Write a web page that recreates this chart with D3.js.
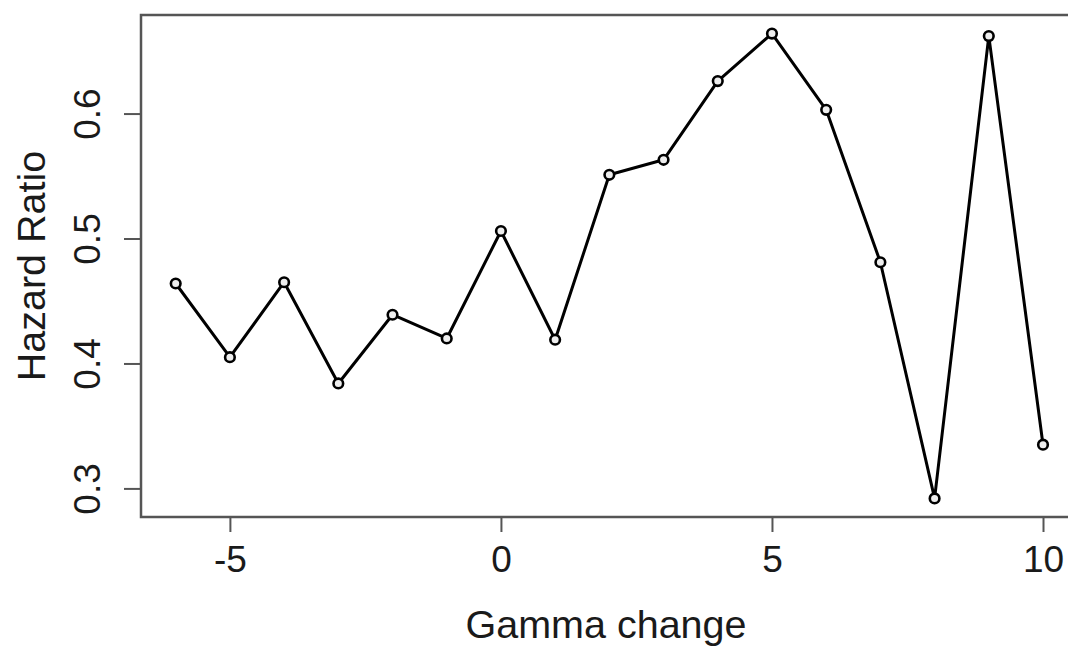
<!DOCTYPE html>
<html>
<head>
<meta charset="utf-8">
<script src="https://cdn.jsdelivr.net/npm/d3@7"></script>
<style>
  html, body { margin: 0; padding: 0; background: #fff; overflow: hidden; }
  svg { display: block; }
  text { font-family: "Liberation Sans", Arial, sans-serif; fill: #1a1a1a; }
</style>
</head>
<body>
<svg id="chart" width="1068" height="647"></svg>
<script>
// Gamma change (x) and the resulting hazard ratio (y)
const gammaChange = [-6, -5, -4, -3, -2, -1, 0, 1, 2, 3, 4, 5, 6, 7, 8, 9, 10];
const hazardRatio = [0.464, 0.405, 0.465, 0.384, 0.439, 0.420, 0.506, 0.419,
                     0.551, 0.563, 0.626, 0.664, 0.603, 0.481, 0.292, 0.662, 0.335];
const xTicks = [-5, 0, 5, 10];
const yTicks = [0.3, 0.4, 0.5, 0.6];
const xTitle = "Gamma change";
const yTitle = "Hazard Ratio";

const svg = d3.select("#chart");
const plot = { left: 141, right: 1077.7, top: 15, bottom: 517 };

// Extend each data range by 4% on both sides, as R's base graphics does
function padded(ext) {
  const d = (ext[1] - ext[0]) * 0.04;
  return [ext[0] - d, ext[1] + d];
}

const x = d3.scaleLinear().domain(padded(d3.extent(gammaChange))).range([plot.left, plot.right]);
const y = d3.scaleLinear().domain(padded(d3.extent(hazardRatio))).range([plot.bottom, plot.top]);

const axisColor = "#555";
const tickFont = 37;
const titleFont = 39.5;

// X axis
const gx = svg.append("g")
  .attr("transform", `translate(0,${plot.bottom})`)
  .call(d3.axisBottom(x).tickValues(xTicks).tickSize(15).tickPadding(14).tickFormat(d3.format("d")));
gx.select(".domain").remove();
gx.selectAll(".tick line").attr("stroke", axisColor).attr("stroke-width", 2);
gx.selectAll(".tick text")
  .attr("font-size", tickFont)
  .attr("fill", "#1a1a1a")
  .attr("font-family", "Liberation Sans, Arial, sans-serif")
  .text(d => d < 0 ? "-" + Math.abs(d) : String(d));

// Y axis, labels parallel to the axis
const gy = svg.append("g")
  .attr("transform", `translate(${plot.left},0)`)
  .call(d3.axisLeft(y).tickValues(yTicks).tickSize(17).tickFormat(d3.format(".1f")));
gy.select(".domain").remove();
gy.selectAll(".tick line").attr("stroke", axisColor).attr("stroke-width", 2);
gy.selectAll(".tick text")
  .attr("font-size", tickFont)
  .attr("fill", "#1a1a1a")
  .attr("font-family", "Liberation Sans, Arial, sans-serif")
  .attr("text-anchor", "middle")
  .attr("x", null)
  .attr("dy", null)
  .attr("transform", "translate(-41,0) rotate(-90)");

// Plot frame
svg.append("rect")
  .attr("x", plot.left)
  .attr("y", plot.top)
  .attr("width", plot.right - plot.left)
  .attr("height", plot.bottom - plot.top)
  .attr("fill", "none")
  .attr("stroke", axisColor)
  .attr("stroke-width", 2.5);

// Series line
const line = d3.line().x((d, i) => x(gammaChange[i])).y(d => y(d));
svg.append("path")
  .datum(hazardRatio)
  .attr("d", line)
  .attr("fill", "none")
  .attr("stroke", "#000")
  .attr("stroke-width", 3)
  .attr("stroke-linejoin", "round");

// Point markers
svg.append("g").selectAll("circle")
  .data(hazardRatio)
  .join("circle")
  .attr("cx", (d, i) => x(gammaChange[i]))
  .attr("cy", d => y(d))
  .attr("r", 4.8)
  .attr("fill", "#eee")
  .attr("stroke", "#000")
  .attr("stroke-width", 2.6);

// Axis titles
svg.append("text")
  .attr("x", 606)
  .attr("y", 638)
  .attr("text-anchor", "middle")
  .attr("font-size", titleFont)
  .text(xTitle);

svg.append("text")
  .attr("transform", `translate(45,${(plot.top + plot.bottom) / 2}) rotate(-90)`)
  .attr("text-anchor", "middle")
  .attr("font-size", titleFont)
  .text(yTitle);
</script>
</body>
</html>
